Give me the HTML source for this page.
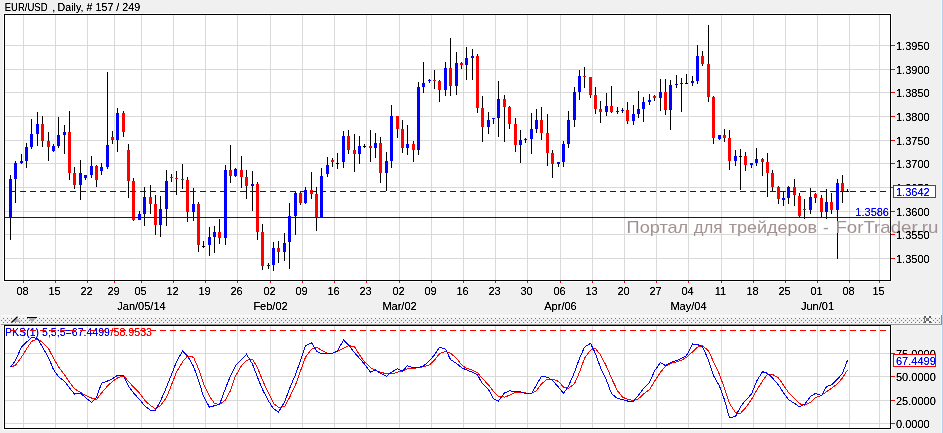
<!DOCTYPE html>
<html><head><meta charset="utf-8"><title>EUR/USD Daily</title>
<style>html,body{margin:0;padding:0;background:#f0f0f0;overflow:hidden;}svg{display:block;will-change:transform;}text{shape-rendering:auto;}</style>
</head><body><svg width="943" height="433" viewBox="0 0 943 433" shape-rendering="crispEdges"><defs><filter id="crisp" x="-20%" y="-40%" width="140%" height="180%"><feComponentTransfer><feFuncA type="linear" slope="1.8" intercept="-0.2"/></feComponentTransfer></filter></defs><rect x="0" y="0" width="943" height="433" fill="#f0f0f0"/><rect x="942" y="0" width="1" height="433" fill="#b6cfea"/><rect x="941" y="0" width="1" height="433" fill="#f7f7f7"/><rect x="5" y="15" width="885" height="265" fill="#fff"/><rect x="3" y="13" width="889" height="269" fill="#fff"/><rect x="23" y="15" width="1" height="265" fill="#d9d9d9"/><rect x="55" y="15" width="1" height="265" fill="#d9d9d9"/><rect x="87" y="15" width="1" height="265" fill="#d9d9d9"/><rect x="114" y="15" width="1" height="265" fill="#d9d9d9"/><rect x="141" y="15" width="1" height="265" fill="#d9d9d9"/><rect x="173" y="15" width="1" height="265" fill="#d9d9d9"/><rect x="205" y="15" width="1" height="265" fill="#d9d9d9"/><rect x="237" y="15" width="1" height="265" fill="#d9d9d9"/><rect x="270" y="15" width="1" height="265" fill="#d9d9d9"/><rect x="302" y="15" width="1" height="265" fill="#d9d9d9"/><rect x="334" y="15" width="1" height="265" fill="#d9d9d9"/><rect x="366" y="15" width="1" height="265" fill="#d9d9d9"/><rect x="399" y="15" width="1" height="265" fill="#d9d9d9"/><rect x="431" y="15" width="1" height="265" fill="#d9d9d9"/><rect x="463" y="15" width="1" height="265" fill="#d9d9d9"/><rect x="495" y="15" width="1" height="265" fill="#d9d9d9"/><rect x="527" y="15" width="1" height="265" fill="#d9d9d9"/><rect x="560" y="15" width="1" height="265" fill="#d9d9d9"/><rect x="592" y="15" width="1" height="265" fill="#d9d9d9"/><rect x="624" y="15" width="1" height="265" fill="#d9d9d9"/><rect x="656" y="15" width="1" height="265" fill="#d9d9d9"/><rect x="688" y="15" width="1" height="265" fill="#d9d9d9"/><rect x="721" y="15" width="1" height="265" fill="#d9d9d9"/><rect x="753" y="15" width="1" height="265" fill="#d9d9d9"/><rect x="785" y="15" width="1" height="265" fill="#d9d9d9"/><rect x="817" y="15" width="1" height="265" fill="#d9d9d9"/><rect x="849" y="15" width="1" height="265" fill="#d9d9d9"/><rect x="879" y="15" width="1" height="265" fill="#d9d9d9"/><rect x="5" y="45" width="885" height="1" fill="#d9d9d9"/><rect x="5" y="69" width="885" height="1" fill="#d9d9d9"/><rect x="5" y="92" width="885" height="1" fill="#d9d9d9"/><rect x="5" y="116" width="885" height="1" fill="#d9d9d9"/><rect x="5" y="140" width="885" height="1" fill="#d9d9d9"/><rect x="5" y="163" width="885" height="1" fill="#d9d9d9"/><rect x="5" y="187" width="885" height="1" fill="#d9d9d9"/><rect x="5" y="211" width="885" height="1" fill="#d9d9d9"/><rect x="5" y="234" width="885" height="1" fill="#d9d9d9"/><rect x="5" y="258" width="885" height="1" fill="#d9d9d9"/><rect x="10" y="175" width="1" height="65" fill="#000"/><rect x="9" y="179" width="3" height="39" fill="#0000ff"/><rect x="15" y="161" width="1" height="42" fill="#000"/><rect x="14" y="163" width="3" height="16" fill="#0000ff"/><rect x="21" y="154" width="1" height="10" fill="#000"/><rect x="20" y="161" width="3" height="2" fill="#0000ff"/><rect x="26" y="143" width="1" height="25" fill="#000"/><rect x="25" y="147" width="3" height="14" fill="#0000ff"/><rect x="31" y="119" width="1" height="30" fill="#000"/><rect x="30" y="134" width="3" height="13" fill="#0000ff"/><rect x="37" y="112" width="1" height="34" fill="#000"/><rect x="36" y="124" width="3" height="10" fill="#0000ff"/><rect x="42" y="116" width="1" height="31" fill="#000"/><rect x="41" y="124" width="3" height="17" fill="#ff0000"/><rect x="48" y="132" width="1" height="29" fill="#000"/><rect x="47" y="141" width="3" height="6" fill="#ff0000"/><rect x="53" y="144" width="1" height="8" fill="#000"/><rect x="52" y="146" width="3" height="5" fill="#0000ff"/><rect x="58" y="117" width="1" height="31" fill="#000"/><rect x="57" y="135" width="3" height="11" fill="#0000ff"/><rect x="64" y="125" width="1" height="29" fill="#000"/><rect x="63" y="132" width="3" height="3" fill="#0000ff"/><rect x="69" y="111" width="1" height="69" fill="#000"/><rect x="68" y="132" width="3" height="41" fill="#ff0000"/><rect x="74" y="167" width="1" height="22" fill="#000"/><rect x="73" y="173" width="3" height="12" fill="#ff0000"/><rect x="80" y="160" width="1" height="40" fill="#000"/><rect x="79" y="173" width="3" height="12" fill="#0000ff"/><rect x="85" y="175" width="1" height="5" fill="#000"/><rect x="84" y="175" width="3" height="3" fill="#0000ff"/><rect x="91" y="156" width="1" height="22" fill="#000"/><rect x="90" y="166" width="3" height="9" fill="#0000ff"/><rect x="96" y="165" width="1" height="22" fill="#000"/><rect x="95" y="166" width="3" height="14" fill="#ff0000"/><rect x="101" y="163" width="1" height="12" fill="#000"/><rect x="100" y="167" width="3" height="4" fill="#0000ff"/><rect x="107" y="72" width="1" height="97" fill="#000"/><rect x="106" y="145" width="3" height="22" fill="#0000ff"/><rect x="112" y="131" width="1" height="13" fill="#000"/><rect x="111" y="137" width="3" height="3" fill="#ff0000"/><rect x="117" y="108" width="1" height="44" fill="#000"/><rect x="116" y="113" width="3" height="27" fill="#0000ff"/><rect x="123" y="111" width="1" height="26" fill="#000"/><rect x="122" y="113" width="3" height="19" fill="#ff0000"/><rect x="128" y="144" width="1" height="54" fill="#000"/><rect x="127" y="150" width="3" height="31" fill="#ff0000"/><rect x="133" y="178" width="1" height="43" fill="#000"/><rect x="132" y="181" width="3" height="39" fill="#ff0000"/><rect x="139" y="211" width="1" height="9" fill="#000"/><rect x="138" y="214" width="3" height="6" fill="#0000ff"/><rect x="144" y="187" width="1" height="39" fill="#000"/><rect x="143" y="197" width="3" height="17" fill="#0000ff"/><rect x="150" y="185" width="1" height="29" fill="#000"/><rect x="149" y="197" width="3" height="7" fill="#ff0000"/><rect x="155" y="195" width="1" height="40" fill="#000"/><rect x="154" y="204" width="3" height="21" fill="#ff0000"/><rect x="160" y="196" width="1" height="41" fill="#000"/><rect x="159" y="209" width="3" height="16" fill="#0000ff"/><rect x="166" y="170" width="1" height="56" fill="#000"/><rect x="165" y="181" width="3" height="28" fill="#0000ff"/><rect x="171" y="174" width="1" height="8" fill="#000"/><rect x="170" y="177" width="3" height="1" fill="#ff0000"/><rect x="176" y="171" width="1" height="24" fill="#000"/><rect x="175" y="178" width="3" height="1" fill="#ff0000"/><rect x="182" y="164" width="1" height="25" fill="#000"/><rect x="181" y="179" width="3" height="1" fill="#ff0000"/><rect x="187" y="177" width="1" height="45" fill="#000"/><rect x="186" y="180" width="3" height="32" fill="#ff0000"/><rect x="193" y="188" width="1" height="33" fill="#000"/><rect x="192" y="204" width="3" height="8" fill="#0000ff"/><rect x="198" y="202" width="1" height="50" fill="#000"/><rect x="197" y="204" width="3" height="41" fill="#ff0000"/><rect x="203" y="241" width="1" height="7" fill="#000"/><rect x="202" y="246" width="3" height="1" fill="#000"/><rect x="209" y="227" width="1" height="29" fill="#000"/><rect x="208" y="237" width="3" height="8" fill="#0000ff"/><rect x="214" y="226" width="1" height="27" fill="#000"/><rect x="213" y="232" width="3" height="5" fill="#0000ff"/><rect x="219" y="219" width="1" height="25" fill="#000"/><rect x="218" y="232" width="3" height="6" fill="#ff0000"/><rect x="225" y="165" width="1" height="80" fill="#000"/><rect x="224" y="170" width="3" height="68" fill="#0000ff"/><rect x="230" y="145" width="1" height="38" fill="#000"/><rect x="229" y="170" width="3" height="6" fill="#ff0000"/><rect x="235" y="168" width="1" height="9" fill="#000"/><rect x="234" y="169" width="3" height="7" fill="#0000ff"/><rect x="241" y="156" width="1" height="32" fill="#000"/><rect x="240" y="170" width="3" height="7" fill="#ff0000"/><rect x="246" y="170" width="1" height="29" fill="#000"/><rect x="245" y="177" width="3" height="9" fill="#ff0000"/><rect x="252" y="171" width="1" height="40" fill="#000"/><rect x="251" y="184" width="3" height="2" fill="#0000ff"/><rect x="257" y="182" width="1" height="58" fill="#000"/><rect x="256" y="184" width="3" height="48" fill="#ff0000"/><rect x="262" y="224" width="1" height="46" fill="#000"/><rect x="261" y="232" width="3" height="34" fill="#ff0000"/><rect x="268" y="263" width="1" height="6" fill="#000"/><rect x="267" y="265" width="3" height="1" fill="#0000ff"/><rect x="273" y="242" width="1" height="29" fill="#000"/><rect x="272" y="248" width="3" height="17" fill="#0000ff"/><rect x="278" y="241" width="1" height="22" fill="#000"/><rect x="277" y="248" width="3" height="4" fill="#ff0000"/><rect x="284" y="233" width="1" height="28" fill="#000"/><rect x="283" y="243" width="3" height="9" fill="#0000ff"/><rect x="289" y="203" width="1" height="66" fill="#000"/><rect x="288" y="216" width="3" height="26" fill="#0000ff"/><rect x="295" y="191" width="1" height="44" fill="#000"/><rect x="294" y="193" width="3" height="23" fill="#0000ff"/><rect x="300" y="192" width="1" height="13" fill="#000"/><rect x="299" y="193" width="3" height="10" fill="#ff0000"/><rect x="305" y="187" width="1" height="17" fill="#000"/><rect x="304" y="190" width="3" height="13" fill="#0000ff"/><rect x="311" y="172" width="1" height="27" fill="#000"/><rect x="310" y="190" width="3" height="4" fill="#ff0000"/><rect x="316" y="187" width="1" height="44" fill="#000"/><rect x="315" y="194" width="3" height="23" fill="#ff0000"/><rect x="321" y="168" width="1" height="50" fill="#000"/><rect x="320" y="176" width="3" height="42" fill="#0000ff"/><rect x="327" y="157" width="1" height="20" fill="#000"/><rect x="326" y="165" width="3" height="9" fill="#0000ff"/><rect x="332" y="158" width="1" height="9" fill="#000"/><rect x="331" y="160" width="3" height="2" fill="#ff0000"/><rect x="337" y="153" width="1" height="16" fill="#000"/><rect x="336" y="163" width="3" height="1" fill="#000"/><rect x="343" y="131" width="1" height="37" fill="#000"/><rect x="342" y="136" width="3" height="26" fill="#0000ff"/><rect x="348" y="130" width="1" height="24" fill="#000"/><rect x="347" y="136" width="3" height="14" fill="#ff0000"/><rect x="354" y="134" width="1" height="38" fill="#000"/><rect x="353" y="150" width="3" height="4" fill="#ff0000"/><rect x="359" y="136" width="1" height="28" fill="#000"/><rect x="358" y="146" width="3" height="8" fill="#0000ff"/><rect x="364" y="144" width="1" height="4" fill="#000"/><rect x="363" y="146" width="3" height="1" fill="#000"/><rect x="370" y="130" width="1" height="32" fill="#000"/><rect x="369" y="146" width="3" height="2" fill="#ff0000"/><rect x="375" y="133" width="1" height="25" fill="#000"/><rect x="374" y="143" width="3" height="5" fill="#0000ff"/><rect x="380" y="137" width="1" height="46" fill="#000"/><rect x="379" y="143" width="3" height="30" fill="#ff0000"/><rect x="386" y="152" width="1" height="39" fill="#000"/><rect x="385" y="161" width="3" height="12" fill="#0000ff"/><rect x="391" y="105" width="1" height="63" fill="#000"/><rect x="390" y="116" width="3" height="45" fill="#0000ff"/><rect x="397" y="116" width="1" height="22" fill="#000"/><rect x="396" y="116" width="3" height="13" fill="#ff0000"/><rect x="402" y="120" width="1" height="33" fill="#000"/><rect x="401" y="129" width="3" height="19" fill="#ff0000"/><rect x="407" y="125" width="1" height="30" fill="#000"/><rect x="406" y="144" width="3" height="4" fill="#0000ff"/><rect x="413" y="141" width="1" height="21" fill="#000"/><rect x="412" y="144" width="3" height="6" fill="#ff0000"/><rect x="418" y="82" width="1" height="73" fill="#000"/><rect x="417" y="87" width="3" height="63" fill="#0000ff"/><rect x="423" y="62" width="1" height="31" fill="#000"/><rect x="422" y="83" width="3" height="4" fill="#0000ff"/><rect x="429" y="79" width="1" height="4" fill="#000"/><rect x="428" y="80" width="3" height="1" fill="#0000ff"/><rect x="434" y="70" width="1" height="19" fill="#000"/><rect x="433" y="80" width="3" height="1" fill="#ff0000"/><rect x="439" y="80" width="1" height="22" fill="#000"/><rect x="438" y="81" width="3" height="9" fill="#ff0000"/><rect x="445" y="62" width="1" height="34" fill="#000"/><rect x="444" y="68" width="3" height="22" fill="#0000ff"/><rect x="450" y="38" width="1" height="58" fill="#000"/><rect x="449" y="68" width="3" height="18" fill="#ff0000"/><rect x="456" y="52" width="1" height="43" fill="#000"/><rect x="455" y="63" width="3" height="23" fill="#0000ff"/><rect x="461" y="62" width="1" height="7" fill="#000"/><rect x="460" y="63" width="3" height="2" fill="#ff0000"/><rect x="466" y="47" width="1" height="33" fill="#000"/><rect x="465" y="58" width="3" height="7" fill="#0000ff"/><rect x="472" y="49" width="1" height="31" fill="#000"/><rect x="471" y="56" width="3" height="2" fill="#0000ff"/><rect x="477" y="54" width="1" height="59" fill="#000"/><rect x="476" y="56" width="3" height="52" fill="#ff0000"/><rect x="482" y="96" width="1" height="46" fill="#000"/><rect x="481" y="108" width="3" height="19" fill="#ff0000"/><rect x="488" y="112" width="1" height="22" fill="#000"/><rect x="487" y="120" width="3" height="7" fill="#0000ff"/><rect x="493" y="118" width="1" height="6" fill="#000"/><rect x="492" y="118" width="3" height="1" fill="#0000ff"/><rect x="498" y="81" width="1" height="56" fill="#000"/><rect x="497" y="99" width="3" height="19" fill="#0000ff"/><rect x="504" y="95" width="1" height="47" fill="#000"/><rect x="503" y="99" width="3" height="8" fill="#ff0000"/><rect x="509" y="106" width="1" height="23" fill="#000"/><rect x="508" y="107" width="3" height="17" fill="#ff0000"/><rect x="515" y="118" width="1" height="34" fill="#000"/><rect x="514" y="124" width="3" height="21" fill="#ff0000"/><rect x="520" y="130" width="1" height="33" fill="#000"/><rect x="519" y="140" width="3" height="5" fill="#0000ff"/><rect x="525" y="138" width="1" height="5" fill="#000"/><rect x="524" y="139" width="3" height="1" fill="#0000ff"/><rect x="531" y="113" width="1" height="41" fill="#000"/><rect x="530" y="129" width="3" height="10" fill="#0000ff"/><rect x="536" y="109" width="1" height="24" fill="#000"/><rect x="535" y="120" width="3" height="9" fill="#0000ff"/><rect x="541" y="107" width="1" height="33" fill="#000"/><rect x="540" y="120" width="3" height="13" fill="#ff0000"/><rect x="547" y="114" width="1" height="52" fill="#000"/><rect x="546" y="133" width="3" height="20" fill="#ff0000"/><rect x="552" y="150" width="1" height="28" fill="#000"/><rect x="551" y="153" width="3" height="11" fill="#ff0000"/><rect x="558" y="162" width="1" height="5" fill="#000"/><rect x="557" y="162" width="3" height="2" fill="#0000ff"/><rect x="563" y="141" width="1" height="26" fill="#000"/><rect x="562" y="144" width="3" height="18" fill="#0000ff"/><rect x="568" y="111" width="1" height="37" fill="#000"/><rect x="567" y="120" width="3" height="24" fill="#0000ff"/><rect x="574" y="87" width="1" height="40" fill="#000"/><rect x="573" y="92" width="3" height="28" fill="#0000ff"/><rect x="579" y="70" width="1" height="30" fill="#000"/><rect x="578" y="76" width="3" height="16" fill="#0000ff"/><rect x="584" y="67" width="1" height="21" fill="#000"/><rect x="583" y="76" width="3" height="1" fill="#ff0000"/><rect x="590" y="77" width="1" height="21" fill="#000"/><rect x="589" y="77" width="3" height="18" fill="#ff0000"/><rect x="595" y="87" width="1" height="27" fill="#000"/><rect x="594" y="95" width="3" height="14" fill="#ff0000"/><rect x="600" y="101" width="1" height="22" fill="#000"/><rect x="599" y="109" width="3" height="3" fill="#ff0000"/><rect x="606" y="93" width="1" height="23" fill="#000"/><rect x="605" y="106" width="3" height="6" fill="#0000ff"/><rect x="611" y="86" width="1" height="27" fill="#000"/><rect x="610" y="106" width="3" height="6" fill="#ff0000"/><rect x="617" y="107" width="1" height="7" fill="#000"/><rect x="616" y="111" width="3" height="1" fill="#0000ff"/><rect x="622" y="108" width="1" height="5" fill="#000"/><rect x="621" y="110" width="3" height="1" fill="#0000ff"/><rect x="627" y="102" width="1" height="22" fill="#000"/><rect x="626" y="110" width="3" height="11" fill="#ff0000"/><rect x="633" y="105" width="1" height="20" fill="#000"/><rect x="632" y="114" width="3" height="7" fill="#0000ff"/><rect x="638" y="91" width="1" height="27" fill="#000"/><rect x="637" y="109" width="3" height="5" fill="#0000ff"/><rect x="643" y="97" width="1" height="25" fill="#000"/><rect x="642" y="102" width="3" height="7" fill="#0000ff"/><rect x="649" y="94" width="1" height="11" fill="#000"/><rect x="648" y="100" width="3" height="2" fill="#0000ff"/><rect x="654" y="95" width="1" height="6" fill="#000"/><rect x="653" y="96" width="3" height="2" fill="#ff0000"/><rect x="660" y="79" width="1" height="32" fill="#000"/><rect x="659" y="92" width="3" height="6" fill="#0000ff"/><rect x="665" y="79" width="1" height="36" fill="#000"/><rect x="664" y="92" width="3" height="18" fill="#ff0000"/><rect x="670" y="80" width="1" height="50" fill="#000"/><rect x="669" y="85" width="3" height="25" fill="#0000ff"/><rect x="676" y="75" width="1" height="13" fill="#000"/><rect x="675" y="84" width="3" height="1" fill="#0000ff"/><rect x="681" y="78" width="1" height="34" fill="#000"/><rect x="680" y="83" width="3" height="1" fill="#0000ff"/><rect x="686" y="74" width="1" height="10" fill="#000"/><rect x="685" y="83" width="3" height="1" fill="#000"/><rect x="692" y="76" width="1" height="10" fill="#000"/><rect x="691" y="81" width="3" height="2" fill="#0000ff"/><rect x="697" y="45" width="1" height="39" fill="#000"/><rect x="696" y="56" width="3" height="25" fill="#0000ff"/><rect x="702" y="51" width="1" height="15" fill="#000"/><rect x="701" y="56" width="3" height="8" fill="#ff0000"/><rect x="708" y="25" width="1" height="77" fill="#000"/><rect x="707" y="64" width="3" height="33" fill="#ff0000"/><rect x="713" y="96" width="1" height="48" fill="#000"/><rect x="712" y="97" width="3" height="41" fill="#ff0000"/><rect x="719" y="135" width="1" height="5" fill="#000"/><rect x="718" y="135" width="3" height="4" fill="#0000ff"/><rect x="724" y="129" width="1" height="13" fill="#000"/><rect x="723" y="135" width="3" height="3" fill="#ff0000"/><rect x="729" y="130" width="1" height="40" fill="#000"/><rect x="728" y="138" width="3" height="23" fill="#ff0000"/><rect x="735" y="150" width="1" height="16" fill="#000"/><rect x="734" y="156" width="3" height="5" fill="#0000ff"/><rect x="740" y="149" width="1" height="41" fill="#000"/><rect x="739" y="156" width="3" height="1" fill="#000"/><rect x="745" y="152" width="1" height="19" fill="#000"/><rect x="744" y="156" width="3" height="9" fill="#ff0000"/><rect x="751" y="163" width="1" height="5" fill="#000"/><rect x="750" y="163" width="3" height="2" fill="#0000ff"/><rect x="756" y="148" width="1" height="18" fill="#000"/><rect x="755" y="159" width="3" height="4" fill="#0000ff"/><rect x="762" y="158" width="1" height="18" fill="#000"/><rect x="761" y="159" width="3" height="3" fill="#ff0000"/><rect x="767" y="153" width="1" height="44" fill="#000"/><rect x="766" y="162" width="3" height="11" fill="#ff0000"/><rect x="772" y="170" width="1" height="21" fill="#000"/><rect x="771" y="173" width="3" height="14" fill="#ff0000"/><rect x="778" y="186" width="1" height="18" fill="#000"/><rect x="777" y="187" width="3" height="12" fill="#ff0000"/><rect x="783" y="192" width="1" height="14" fill="#000"/><rect x="782" y="198" width="3" height="2" fill="#0000ff"/><rect x="788" y="186" width="1" height="18" fill="#000"/><rect x="787" y="187" width="3" height="11" fill="#0000ff"/><rect x="794" y="179" width="1" height="27" fill="#000"/><rect x="793" y="187" width="3" height="8" fill="#ff0000"/><rect x="799" y="193" width="1" height="24" fill="#000"/><rect x="798" y="196" width="3" height="20" fill="#ff0000"/><rect x="804" y="199" width="1" height="20" fill="#000"/><rect x="803" y="209" width="3" height="1" fill="#ff0000"/><rect x="810" y="188" width="1" height="26" fill="#000"/><rect x="809" y="197" width="3" height="13" fill="#0000ff"/><rect x="815" y="193" width="1" height="10" fill="#000"/><rect x="814" y="194" width="3" height="4" fill="#ff0000"/><rect x="821" y="195" width="1" height="22" fill="#000"/><rect x="820" y="198" width="3" height="14" fill="#ff0000"/><rect x="826" y="189" width="1" height="30" fill="#000"/><rect x="825" y="202" width="3" height="10" fill="#0000ff"/><rect x="831" y="193" width="1" height="21" fill="#000"/><rect x="830" y="202" width="3" height="8" fill="#ff0000"/><rect x="837" y="179" width="1" height="80" fill="#000"/><rect x="836" y="183" width="3" height="27" fill="#0000ff"/><rect x="842" y="175" width="1" height="28" fill="#000"/><rect x="841" y="183" width="3" height="8" fill="#ff0000"/><rect x="847" y="189" width="1" height="3" fill="#000"/><rect x="846" y="191" width="3" height="1" fill="#000"/><path d="M10 191.5h6M20 191.5h6M30 191.5h6M40 191.5h6M50 191.5h6M60 191.5h6M70 191.5h6M80 191.5h6M90 191.5h6M100 191.5h6M110 191.5h6M120 191.5h6M130 191.5h6M140 191.5h6M150 191.5h6M160 191.5h6M170 191.5h6M180 191.5h6M190 191.5h6M200 191.5h6M210 191.5h6M220 191.5h6M230 191.5h6M240 191.5h6M250 191.5h6M260 191.5h6M270 191.5h6M280 191.5h6M290 191.5h6M300 191.5h6M310 191.5h6M320 191.5h6M330 191.5h6M340 191.5h6M350 191.5h6M360 191.5h6M370 191.5h6M380 191.5h6M390 191.5h6M400 191.5h6M410 191.5h6M420 191.5h6M430 191.5h6M440 191.5h6M450 191.5h6M460 191.5h6M470 191.5h6M480 191.5h6M490 191.5h6M500 191.5h6M510 191.5h6M520 191.5h6M530 191.5h6M540 191.5h6M550 191.5h6M560 191.5h6M570 191.5h6M580 191.5h6M590 191.5h6M600 191.5h6M610 191.5h6M620 191.5h6M630 191.5h6M640 191.5h6M650 191.5h6M660 191.5h6M670 191.5h6M680 191.5h6M690 191.5h6M700 191.5h6M710 191.5h6M720 191.5h6M730 191.5h6M740 191.5h6M750 191.5h6M760 191.5h6M770 191.5h6M780 191.5h6M790 191.5h6M800 191.5h6M810 191.5h6M820 191.5h6M830 191.5h6M840 191.5h6M850 191.5h6M860 191.5h6M870 191.5h6M880 191.5h6" stroke="#0000ff" stroke-width="1"/><rect x="5" y="217" width="885" height="1" fill="#0000ff"/><text x="889" y="216" font-family="Liberation Sans" font-size="11px" filter="url(#crisp)" fill="#0000ff" text-anchor="end">1.3586</text><rect x="4.5" y="14.5" width="886" height="266" fill="none" stroke="#000" stroke-width="1"/><text x="626.6" y="233.4" font-family="Liberation Sans" font-size="17px" fill="#a29192" lengthAdjust="spacingAndGlyphs" textLength="61.6">Портал</text><text x="693.8" y="233.4" font-family="Liberation Sans" font-size="17px" fill="#a29192" lengthAdjust="spacingAndGlyphs" textLength="28.6">для</text><text x="728.8" y="233.4" font-family="Liberation Sans" font-size="17px" fill="#a29192" lengthAdjust="spacingAndGlyphs" textLength="88.3">трейдеров</text><text x="823.1" y="233.4" font-family="Liberation Sans" font-size="17px" fill="#a29192" lengthAdjust="spacingAndGlyphs" textLength="5.8">-</text><text x="835.4" y="233.4" font-family="Liberation Sans" font-size="17px" fill="#a29192" lengthAdjust="spacingAndGlyphs" textLength="103">ForTrader.ru</text><rect x="891" y="45" width="4" height="1" fill="#ff0000"/><text x="896" y="50" font-family="Liberation Sans" font-size="11px" filter="url(#crisp)" fill="#000">1.3950</text><rect x="891" y="69" width="4" height="1" fill="#ff0000"/><text x="896" y="74" font-family="Liberation Sans" font-size="11px" filter="url(#crisp)" fill="#000">1.3900</text><rect x="891" y="92" width="4" height="1" fill="#ff0000"/><text x="896" y="97" font-family="Liberation Sans" font-size="11px" filter="url(#crisp)" fill="#000">1.3850</text><rect x="891" y="116" width="4" height="1" fill="#ff0000"/><text x="896" y="121" font-family="Liberation Sans" font-size="11px" filter="url(#crisp)" fill="#000">1.3800</text><rect x="891" y="140" width="4" height="1" fill="#ff0000"/><text x="896" y="145" font-family="Liberation Sans" font-size="11px" filter="url(#crisp)" fill="#000">1.3750</text><rect x="891" y="163" width="4" height="1" fill="#ff0000"/><text x="896" y="168" font-family="Liberation Sans" font-size="11px" filter="url(#crisp)" fill="#000">1.3700</text><rect x="891" y="187" width="4" height="1" fill="#ff0000"/><text x="896" y="192" font-family="Liberation Sans" font-size="11px" filter="url(#crisp)" fill="#000">1.3650</text><rect x="891" y="211" width="4" height="1" fill="#ff0000"/><text x="896" y="216" font-family="Liberation Sans" font-size="11px" filter="url(#crisp)" fill="#000">1.3600</text><rect x="891" y="234" width="4" height="1" fill="#ff0000"/><text x="896" y="239" font-family="Liberation Sans" font-size="11px" filter="url(#crisp)" fill="#000">1.3550</text><rect x="891" y="258" width="4" height="1" fill="#ff0000"/><text x="896" y="263" font-family="Liberation Sans" font-size="11px" filter="url(#crisp)" fill="#000">1.3500</text><rect x="893.5" y="185.5" width="42" height="12" fill="#fff" stroke="#ff0000"/><text x="896" y="196" font-family="Liberation Sans" font-size="11px" filter="url(#crisp)" fill="#0000ff">1.3642</text><rect x="23" y="281" width="1" height="2" fill="#ff0000"/><text x="22.5" y="295" font-family="Liberation Sans" font-size="11px" filter="url(#crisp)" fill="#000" text-anchor="middle">08</text><rect x="55" y="281" width="1" height="2" fill="#ff0000"/><text x="54.5" y="295" font-family="Liberation Sans" font-size="11px" filter="url(#crisp)" fill="#000" text-anchor="middle">15</text><rect x="87" y="281" width="1" height="2" fill="#ff0000"/><text x="86.5" y="295" font-family="Liberation Sans" font-size="11px" filter="url(#crisp)" fill="#000" text-anchor="middle">22</text><rect x="114" y="281" width="1" height="2" fill="#ff0000"/><text x="113.5" y="295" font-family="Liberation Sans" font-size="11px" filter="url(#crisp)" fill="#000" text-anchor="middle">29</text><rect x="141" y="281" width="1" height="2" fill="#ff0000"/><text x="140.5" y="295" font-family="Liberation Sans" font-size="11px" filter="url(#crisp)" fill="#000" text-anchor="middle">05</text><rect x="173" y="281" width="1" height="2" fill="#ff0000"/><text x="172.5" y="295" font-family="Liberation Sans" font-size="11px" filter="url(#crisp)" fill="#000" text-anchor="middle">12</text><rect x="205" y="281" width="1" height="2" fill="#ff0000"/><text x="204.5" y="295" font-family="Liberation Sans" font-size="11px" filter="url(#crisp)" fill="#000" text-anchor="middle">19</text><rect x="237" y="281" width="1" height="2" fill="#ff0000"/><text x="236.5" y="295" font-family="Liberation Sans" font-size="11px" filter="url(#crisp)" fill="#000" text-anchor="middle">26</text><rect x="270" y="281" width="1" height="2" fill="#ff0000"/><text x="269.5" y="295" font-family="Liberation Sans" font-size="11px" filter="url(#crisp)" fill="#000" text-anchor="middle">02</text><rect x="302" y="281" width="1" height="2" fill="#ff0000"/><text x="301.5" y="295" font-family="Liberation Sans" font-size="11px" filter="url(#crisp)" fill="#000" text-anchor="middle">09</text><rect x="334" y="281" width="1" height="2" fill="#ff0000"/><text x="333.5" y="295" font-family="Liberation Sans" font-size="11px" filter="url(#crisp)" fill="#000" text-anchor="middle">16</text><rect x="366" y="281" width="1" height="2" fill="#ff0000"/><text x="365.5" y="295" font-family="Liberation Sans" font-size="11px" filter="url(#crisp)" fill="#000" text-anchor="middle">23</text><rect x="399" y="281" width="1" height="2" fill="#ff0000"/><text x="398.5" y="295" font-family="Liberation Sans" font-size="11px" filter="url(#crisp)" fill="#000" text-anchor="middle">02</text><rect x="431" y="281" width="1" height="2" fill="#ff0000"/><text x="430.5" y="295" font-family="Liberation Sans" font-size="11px" filter="url(#crisp)" fill="#000" text-anchor="middle">09</text><rect x="463" y="281" width="1" height="2" fill="#ff0000"/><text x="462.5" y="295" font-family="Liberation Sans" font-size="11px" filter="url(#crisp)" fill="#000" text-anchor="middle">16</text><rect x="495" y="281" width="1" height="2" fill="#ff0000"/><text x="494.5" y="295" font-family="Liberation Sans" font-size="11px" filter="url(#crisp)" fill="#000" text-anchor="middle">23</text><rect x="527" y="281" width="1" height="2" fill="#ff0000"/><text x="526.5" y="295" font-family="Liberation Sans" font-size="11px" filter="url(#crisp)" fill="#000" text-anchor="middle">30</text><rect x="560" y="281" width="1" height="2" fill="#ff0000"/><text x="559.5" y="295" font-family="Liberation Sans" font-size="11px" filter="url(#crisp)" fill="#000" text-anchor="middle">06</text><rect x="592" y="281" width="1" height="2" fill="#ff0000"/><text x="591.5" y="295" font-family="Liberation Sans" font-size="11px" filter="url(#crisp)" fill="#000" text-anchor="middle">13</text><rect x="624" y="281" width="1" height="2" fill="#ff0000"/><text x="623.5" y="295" font-family="Liberation Sans" font-size="11px" filter="url(#crisp)" fill="#000" text-anchor="middle">20</text><rect x="656" y="281" width="1" height="2" fill="#ff0000"/><text x="655.5" y="295" font-family="Liberation Sans" font-size="11px" filter="url(#crisp)" fill="#000" text-anchor="middle">27</text><rect x="688" y="281" width="1" height="2" fill="#ff0000"/><text x="687.5" y="295" font-family="Liberation Sans" font-size="11px" filter="url(#crisp)" fill="#000" text-anchor="middle">04</text><rect x="721" y="281" width="1" height="2" fill="#ff0000"/><text x="720.5" y="295" font-family="Liberation Sans" font-size="11px" filter="url(#crisp)" fill="#000" text-anchor="middle">11</text><rect x="753" y="281" width="1" height="2" fill="#ff0000"/><text x="752.5" y="295" font-family="Liberation Sans" font-size="11px" filter="url(#crisp)" fill="#000" text-anchor="middle">18</text><rect x="785" y="281" width="1" height="2" fill="#ff0000"/><text x="784.5" y="295" font-family="Liberation Sans" font-size="11px" filter="url(#crisp)" fill="#000" text-anchor="middle">25</text><rect x="817" y="281" width="1" height="2" fill="#ff0000"/><text x="816.5" y="295" font-family="Liberation Sans" font-size="11px" filter="url(#crisp)" fill="#000" text-anchor="middle">01</text><rect x="849" y="281" width="1" height="2" fill="#ff0000"/><text x="848.5" y="295" font-family="Liberation Sans" font-size="11px" filter="url(#crisp)" fill="#000" text-anchor="middle">08</text><rect x="879" y="281" width="1" height="2" fill="#ff0000"/><text x="878.5" y="295" font-family="Liberation Sans" font-size="11px" filter="url(#crisp)" fill="#000" text-anchor="middle">15</text><text x="141.5" y="310" font-family="Liberation Sans" font-size="11px" filter="url(#crisp)" fill="#000" text-anchor="middle">Jan/05/14</text><text x="270.5" y="310" font-family="Liberation Sans" font-size="11px" filter="url(#crisp)" fill="#000" text-anchor="middle">Feb/02</text><text x="399.5" y="310" font-family="Liberation Sans" font-size="11px" filter="url(#crisp)" fill="#000" text-anchor="middle">Mar/02</text><text x="560.5" y="310" font-family="Liberation Sans" font-size="11px" filter="url(#crisp)" fill="#000" text-anchor="middle">Apr/06</text><text x="688.5" y="310" font-family="Liberation Sans" font-size="11px" filter="url(#crisp)" fill="#000" text-anchor="middle">May/04</text><text x="817.5" y="310" font-family="Liberation Sans" font-size="11px" filter="url(#crisp)" fill="#000" text-anchor="middle">Jun/01</text><text x="4.8" y="11" font-family="Liberation Sans" font-size="11px" filter="url(#crisp)" fill="#000" lengthAdjust="spacingAndGlyphs" textLength="42.7">EUR/USD</text><text x="52.3" y="11" font-family="Liberation Sans" font-size="11px" filter="url(#crisp)" fill="#000" lengthAdjust="spacingAndGlyphs">,</text><text x="57.6" y="11" font-family="Liberation Sans" font-size="11px" filter="url(#crisp)" fill="#000" lengthAdjust="spacingAndGlyphs" textLength="25.8">Daily,</text><text x="86.6" y="11" font-family="Liberation Sans" font-size="11px" filter="url(#crisp)" fill="#000" lengthAdjust="spacingAndGlyphs" textLength="53.6"># 157 / 249</text><defs><pattern id="dots" x="0" y="316" width="4" height="4" patternUnits="userSpaceOnUse"><rect width="4" height="4" fill="#eeeeee"/><rect x="1" y="0" width="1" height="1" fill="#7a7a7a"/><rect x="3" y="2" width="1" height="1" fill="#7a7a7a"/><rect x="3" y="0" width="1" height="1" fill="#fbfbfb"/><rect x="1" y="2" width="1" height="1" fill="#fbfbfb"/></pattern></defs><rect x="1" y="315" width="941" height="1" fill="#fbfbfb"/><rect x="1" y="316" width="940" height="8" fill="url(#dots)"/><rect x="1" y="316" width="940" height="2" fill="#f4f4f4"/><rect x="1" y="323" width="940" height="1" fill="#f2f2f2"/><rect x="1" y="324" width="941" height="1" fill="#9a9a9a"/><rect x="941" y="315" width="1" height="10" fill="#8a8a8a"/><path d="M13 322 L17 318 L21 322 Z" fill="#b4b4b4" shape-rendering="auto"/><path d="M11.5 322.5 L17.5 316.8" stroke="#000" stroke-width="1.2" fill="none" shape-rendering="auto"/><rect x="27" y="317" width="10" height="1" fill="#000"/><path d="M28.5 318 L36 318 L32.2 322.2 Z" fill="#a8a8a8" shape-rendering="auto"/><rect x="924" y="316" width="7" height="7" fill="#fafafa"/><rect x="924" y="316" width="2" height="2" fill="#5c5c5c"/><rect x="929" y="316" width="2" height="2" fill="#5c5c5c"/><rect x="924" y="321" width="2" height="2" fill="#5c5c5c"/><rect x="929" y="321" width="2" height="2" fill="#5c5c5c"/><rect x="926" y="318" width="3" height="3" fill="#7c7c7c"/><rect x="926" y="318" width="1" height="1" fill="#606060"/><rect x="928" y="318" width="1" height="1" fill="#606060"/><rect x="926" y="320" width="1" height="1" fill="#606060"/><rect x="928" y="320" width="1" height="1" fill="#606060"/><rect x="924" y="316" width="1" height="7" fill="#6a6a6a"/><rect x="3" y="325" width="889" height="105" fill="#fff"/><rect x="23" y="326" width="1" height="102" fill="#d9d9d9"/><rect x="55" y="326" width="1" height="102" fill="#d9d9d9"/><rect x="87" y="326" width="1" height="102" fill="#d9d9d9"/><rect x="114" y="326" width="1" height="102" fill="#d9d9d9"/><rect x="141" y="326" width="1" height="102" fill="#d9d9d9"/><rect x="173" y="326" width="1" height="102" fill="#d9d9d9"/><rect x="205" y="326" width="1" height="102" fill="#d9d9d9"/><rect x="237" y="326" width="1" height="102" fill="#d9d9d9"/><rect x="270" y="326" width="1" height="102" fill="#d9d9d9"/><rect x="302" y="326" width="1" height="102" fill="#d9d9d9"/><rect x="334" y="326" width="1" height="102" fill="#d9d9d9"/><rect x="366" y="326" width="1" height="102" fill="#d9d9d9"/><rect x="399" y="326" width="1" height="102" fill="#d9d9d9"/><rect x="431" y="326" width="1" height="102" fill="#d9d9d9"/><rect x="463" y="326" width="1" height="102" fill="#d9d9d9"/><rect x="495" y="326" width="1" height="102" fill="#d9d9d9"/><rect x="527" y="326" width="1" height="102" fill="#d9d9d9"/><rect x="560" y="326" width="1" height="102" fill="#d9d9d9"/><rect x="592" y="326" width="1" height="102" fill="#d9d9d9"/><rect x="624" y="326" width="1" height="102" fill="#d9d9d9"/><rect x="656" y="326" width="1" height="102" fill="#d9d9d9"/><rect x="688" y="326" width="1" height="102" fill="#d9d9d9"/><rect x="721" y="326" width="1" height="102" fill="#d9d9d9"/><rect x="753" y="326" width="1" height="102" fill="#d9d9d9"/><rect x="785" y="326" width="1" height="102" fill="#d9d9d9"/><rect x="817" y="326" width="1" height="102" fill="#d9d9d9"/><rect x="849" y="326" width="1" height="102" fill="#d9d9d9"/><rect x="879" y="326" width="1" height="102" fill="#d9d9d9"/><rect x="5" y="353" width="885" height="1" fill="#d9d9d9"/><rect x="5" y="376" width="885" height="1" fill="#d9d9d9"/><rect x="5" y="400" width="885" height="1" fill="#d9d9d9"/><rect x="5" y="423" width="885" height="1" fill="#d9d9d9"/><text x="5" y="336" font-family="Liberation Sans" font-size="11px" filter="url(#crisp)" fill="#0000ff" textLength="105" lengthAdjust="spacingAndGlyphs">PKS(1) 5;5;5=67.4499</text><text x="110.5" y="336" font-family="Liberation Sans" font-size="11px" filter="url(#crisp)" fill="#ff0000" textLength="41.5" lengthAdjust="spacingAndGlyphs">/58.9533</text><path d="M10 330.5h6M20 330.5h6M30 330.5h6M40 330.5h6M50 330.5h6M60 330.5h6M70 330.5h6M80 330.5h6M90 330.5h6M100 330.5h6M110 330.5h6M120 330.5h6M130 330.5h6M140 330.5h6M150 330.5h6M160 330.5h6M170 330.5h6M180 330.5h6M190 330.5h6M200 330.5h6M210 330.5h6M220 330.5h6M230 330.5h6M240 330.5h6M250 330.5h6M260 330.5h6M270 330.5h6M280 330.5h6M290 330.5h6M300 330.5h6M310 330.5h6M320 330.5h6M330 330.5h6M340 330.5h6M350 330.5h6M360 330.5h6M370 330.5h6M380 330.5h6M390 330.5h6M400 330.5h6M410 330.5h6M420 330.5h6M430 330.5h6M440 330.5h6M450 330.5h6M460 330.5h6M470 330.5h6M480 330.5h6M490 330.5h6M500 330.5h6M510 330.5h6M520 330.5h6M530 330.5h6M540 330.5h6M550 330.5h6M560 330.5h6M570 330.5h6M580 330.5h6M590 330.5h6M600 330.5h6M610 330.5h6M620 330.5h6M630 330.5h6M640 330.5h6M650 330.5h6M660 330.5h6M670 330.5h6M680 330.5h6M690 330.5h6M700 330.5h6M710 330.5h6M720 330.5h6M730 330.5h6M740 330.5h6M750 330.5h6M760 330.5h6M770 330.5h6M780 330.5h6M790 330.5h6M800 330.5h6M810 330.5h6M820 330.5h6M830 330.5h6M840 330.5h6M850 330.5h6M860 330.5h6M870 330.5h6M880 330.5h6" stroke="#ff0000" stroke-width="1"/><polyline points="10.5,367.0 15.5,365.3 21.5,357.2 26.5,349.1 31.5,341.4 37.5,339.0 42.5,342.2 48.5,348.6 53.5,358.1 58.5,366.8 64.5,374.8 69.5,382.3 74.5,388.8 80.5,392.5 85.5,395.3 91.5,398.0 96.5,399.4 101.5,393.0 107.5,386.0 112.5,381.4 117.5,378.0 123.5,375.7 128.5,381.4 133.5,387.2 139.5,393.0 144.5,399.9 150.5,405.7 155.5,408.7 160.5,405.7 166.5,397.6 171.5,384.9 176.5,372.2 182.5,361.8 187.5,356.0 193.5,357.2 198.5,368.7 203.5,383.7 209.5,396.4 214.5,403.4 219.5,404.5 225.5,399.9 230.5,390.5 235.5,376.0 241.5,365.7 246.5,360.2 252.5,359.5 257.5,367.6 262.5,380.3 268.5,393.0 273.5,403.4 278.5,407.3 284.5,406.8 289.5,397.6 295.5,384.9 300.5,371.0 305.5,357.2 311.5,349.1 316.5,347.2 321.5,350.2 327.5,353.3 332.5,353.3 337.5,351.4 343.5,348.4 348.5,345.6 354.5,346.8 359.5,354.9 364.5,361.8 370.5,367.6 375.5,370.3 380.5,372.2 386.5,373.8 391.5,374.0 397.5,372.2 402.5,371.0 407.5,368.7 413.5,368.3 418.5,367.6 423.5,366.7 429.5,364.8 434.5,360.2 439.5,353.7 445.5,351.4 450.5,353.3 456.5,358.3 461.5,364.8 466.5,368.3 472.5,370.3 477.5,372.7 482.5,378.7 488.5,384.9 493.5,391.4 498.5,396.4 504.5,397.1 509.5,395.3 515.5,392.3 520.5,392.3 525.5,393.0 531.5,393.4 536.5,390.7 541.5,383.7 547.5,379.1 552.5,379.1 558.5,381.4 563.5,387.2 568.5,388.4 574.5,383.7 579.5,372.2 584.5,358.3 590.5,350.2 595.5,348.6 600.5,354.9 606.5,366.4 611.5,378.3 617.5,390.7 622.5,397.1 627.5,399.4 633.5,400.4 638.5,398.7 643.5,394.1 649.5,389.5 654.5,381.4 660.5,372.2 665.5,366.4 670.5,363.4 676.5,361.8 681.5,360.2 686.5,357.2 692.5,351.9 697.5,347.2 702.5,345.6 708.5,350.8 713.5,361.8 719.5,374.5 724.5,388.4 729.5,403.4 735.5,412.6 740.5,413.3 745.5,408.0 751.5,399.4 756.5,390.7 762.5,381.0 767.5,374.0 772.5,374.5 778.5,378.0 783.5,385.2 788.5,392.4 794.5,398.2 799.5,403.7 804.5,405.2 810.5,402.2 815.5,397.6 821.5,395.3 826.5,391.8 831.5,388.4 837.5,383.7 842.5,378.0 847.5,369.9" fill="none" stroke="#ff0000" stroke-width="1"/><polyline points="10.5,367.0 15.5,360.6 21.5,346.8 26.5,342.2 31.5,337.5 37.5,338.5 42.5,347.1 48.5,357.5 53.5,369.6 58.5,376.6 64.5,381.2 69.5,387.9 74.5,394.1 80.5,393.0 85.5,397.6 91.5,402.2 96.5,397.6 101.5,383.3 107.5,381.0 112.5,378.7 117.5,375.2 123.5,375.7 128.5,386.0 133.5,393.0 139.5,399.4 144.5,405.7 150.5,410.3 155.5,410.3 160.5,401.0 166.5,387.2 171.5,374.5 176.5,361.8 182.5,351.0 187.5,356.0 193.5,366.4 198.5,380.3 203.5,396.4 209.5,407.3 214.5,405.7 219.5,404.5 225.5,388.4 230.5,375.7 235.5,365.8 241.5,359.5 246.5,354.2 252.5,364.1 257.5,377.3 262.5,389.5 268.5,401.0 273.5,408.7 278.5,411.9 284.5,402.2 289.5,388.8 295.5,374.5 300.5,360.6 305.5,345.6 311.5,342.6 316.5,351.0 321.5,353.7 327.5,353.3 332.5,353.3 337.5,351.0 343.5,339.9 348.5,345.0 354.5,352.6 359.5,358.3 364.5,364.1 370.5,372.2 375.5,369.9 380.5,373.3 386.5,376.3 391.5,372.2 397.5,368.7 402.5,371.0 407.5,365.7 413.5,368.0 418.5,367.6 423.5,366.0 429.5,360.6 434.5,354.9 439.5,347.2 445.5,349.1 450.5,359.5 456.5,363.4 461.5,367.6 466.5,369.9 472.5,372.2 477.5,375.0 482.5,383.7 488.5,389.5 493.5,398.7 498.5,401.0 504.5,393.0 509.5,390.7 515.5,391.8 520.5,391.8 525.5,393.4 531.5,393.7 536.5,384.9 541.5,376.3 547.5,377.3 552.5,380.3 558.5,387.2 563.5,393.4 568.5,386.0 574.5,372.2 579.5,358.3 584.5,347.2 590.5,343.3 595.5,353.7 600.5,367.6 606.5,380.3 611.5,393.5 617.5,398.7 622.5,399.4 627.5,401.0 633.5,401.0 638.5,395.3 643.5,388.4 649.5,382.6 654.5,371.0 660.5,362.5 665.5,365.7 670.5,362.5 676.5,360.6 681.5,358.3 686.5,355.6 692.5,344.0 697.5,344.5 702.5,346.8 708.5,360.0 713.5,375.7 719.5,386.0 724.5,399.9 729.5,417.9 735.5,416.5 740.5,406.8 745.5,400.4 751.5,394.1 756.5,381.4 762.5,371.7 767.5,373.3 772.5,378.0 778.5,384.9 783.5,393.0 788.5,399.6 794.5,403.4 799.5,406.8 804.5,404.5 810.5,396.4 815.5,393.4 821.5,395.7 826.5,386.5 831.5,384.9 837.5,379.1 842.5,373.3 847.5,360.2" fill="none" stroke="#0000ff" stroke-width="1"/><rect x="4.5" y="325.5" width="886" height="103" fill="none" stroke="#000" stroke-width="1"/><rect x="891" y="353" width="4" height="1" fill="#ff0000"/><text x="896" y="358" font-family="Liberation Sans" font-size="11px" filter="url(#crisp)" fill="#000">75.0000</text><rect x="891" y="376" width="4" height="1" fill="#ff0000"/><text x="896" y="381" font-family="Liberation Sans" font-size="11px" filter="url(#crisp)" fill="#000">50.0000</text><rect x="891" y="400" width="4" height="1" fill="#ff0000"/><text x="896" y="405" font-family="Liberation Sans" font-size="11px" filter="url(#crisp)" fill="#000">25.0000</text><rect x="891" y="423" width="4" height="1" fill="#ff0000"/><text x="896" y="428" font-family="Liberation Sans" font-size="11px" filter="url(#crisp)" fill="#000">0.0000</text><rect x="893.5" y="354.5" width="42" height="12" fill="#fff" stroke="#ff0000"/><text x="896" y="365" font-family="Liberation Sans" font-size="11px" filter="url(#crisp)" fill="#0000ff">67.4499</text></svg></body></html>
